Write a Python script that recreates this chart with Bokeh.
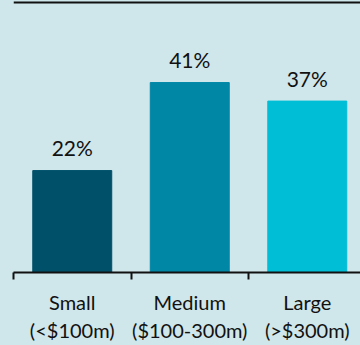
from bokeh.plotting import figure
from bokeh.models import Range1d, FixedTicker, Span, ColumnDataSource, GlobalInlineStyleSheet
from bokeh.core.properties import value
from bokeh.embed import file_html
from bokeh.resources import INLINE

categories = ["Small\n(<$100m)", "Medium\n($100-300m)", "Large\n(>$300m)"]
shares = [22, 41, 37]
colors = ["#00506a", "#0087a6", "#00bed6"]

BG = "#cfe6ea"
FONT = "Lato"

xs = [i + 0.5 for i in range(len(categories))]
src = ColumnDataSource(dict(x=xs, top=shares, color=colors,
                            label=[f"{v}%" for v in shares]))

p = figure(width=360, height=345, output_backend="svg", toolbar_location=None,
           x_range=Range1d(0, 2.953), y_range=Range1d(0, 58.71),
           min_border_left=13, min_border_right=0, min_border_top=0,
           min_border_bottom=72)
p.stylesheets = [GlobalInlineStyleSheet(css=f"body{{margin:0;background:{BG};overflow:hidden}}")]
p.background_fill_color = BG
p.border_fill_color = BG
p.outline_line_color = None
p.grid.visible = False
p.yaxis.visible = False

p.vbar(x="x", top="top", width=0.672, bottom=0, color="color", source=src)
p.text(x="x", y="top", text="label", source=src, text_align="center",
       text_baseline="alphabetic", y_offset=-23, text_font=value(FONT),
       text_font_size="21px", text_color="#111111")

p.add_layout(Span(location=58.28, dimension="width", line_color="#111111", line_width=2))

ax = p.xaxis[0]
ax.ticker = FixedTicker(ticks=xs, minor_ticks=[0, 1, 2])
ax.major_label_overrides = {x: c for x, c in zip(xs, categories)}
ax.major_tick_line_color = None
ax.major_tick_in = 0
ax.major_tick_out = 0
ax.minor_tick_in = 0
ax.minor_tick_out = 7
ax.minor_tick_line_width = 2
ax.minor_tick_line_color = "#111111"
ax.axis_line_width = 2
ax.axis_line_color = "#111111"
ax.major_label_text_font = FONT
ax.major_label_text_font_size = "20px"
ax.major_label_text_color = "#111111"
ax.major_label_standoff = 10
ax.major_label_orientation = "horizontal"

open("out.html", "w").write(file_html(p, INLINE))
